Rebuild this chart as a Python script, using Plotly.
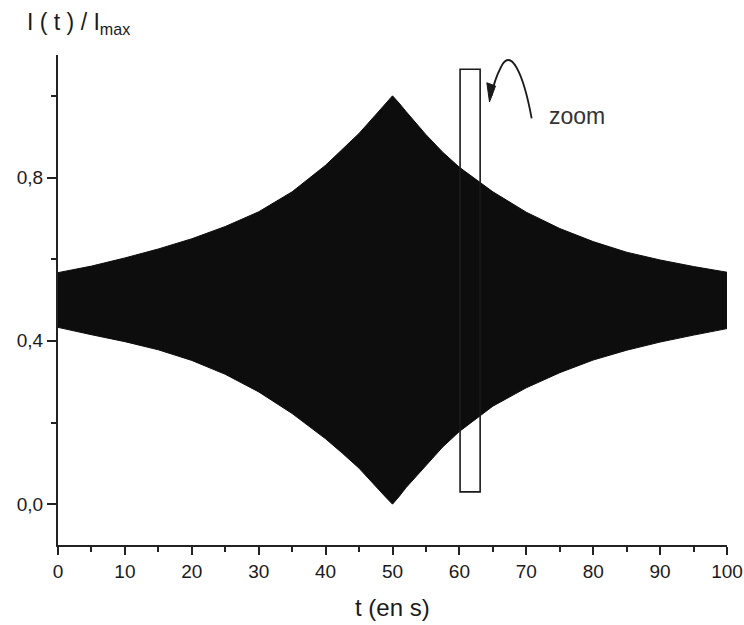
import plotly.graph_objects as go

# Envelope of the (very dense) oscillating intensity
t_s = [0, 5, 10, 15, 20, 25, 30, 35, 40, 42.5, 45, 48, 49, 50, 51, 52, 55, 57.5, 60, 65, 70, 75, 80, 85, 90, 95, 100]
upper = [0.567, 0.583, 0.603, 0.625, 0.650, 0.680, 0.716, 0.765, 0.830, 0.868, 0.908, 0.963, 0.982, 1.000,
         0.982, 0.962, 0.905, 0.862, 0.825, 0.765, 0.715, 0.675, 0.643, 0.617, 0.598, 0.582, 0.568]
lower = [0.433, 0.415, 0.398, 0.378, 0.352, 0.318, 0.275, 0.222, 0.160, 0.125, 0.088, 0.035, 0.017, 0.000,
         0.019, 0.040, 0.095, 0.140, 0.178, 0.240, 0.285, 0.322, 0.353, 0.377, 0.397, 0.414, 0.430]

x_ticks = [0, 10, 20, 30, 40, 50, 60, 70, 80, 90, 100]
x_ticktext = ["0", "10", "20", "30", "40", "50", "60", "70", "80", "90", "100"]
y_ticks = [0.0, 0.4, 0.8]
y_ticktext = ["0,0", "0,4", "0,8"]

FONT = "Liberation Sans"
INK = "#1a1a1a"

fig = go.Figure()
fig.add_trace(go.Scatter(
    x=t_s + t_s[::-1],
    y=upper + lower[::-1],
    fill="toself",
    fillcolor="#0d0d0d",
    line=dict(color="#0d0d0d", width=1),
    mode="lines",
    hoverinfo="skip",
    showlegend=False,
))

# zoom rectangle
fig.add_shape(type="rect", x0=60.1, x1=63.1, y0=0.03, y1=1.065,
              line=dict(color=INK, width=1.6), fillcolor="rgba(0,0,0,0)")
# curved arrow
fig.add_shape(type="path", path="M 70.8,0.945 C 69.5,1.06 67.6,1.12 66.2,1.07 C 65.4,1.045 65.0,1.02 64.8,1.0",
              line=dict(color=INK, width=1.8))
# arrow head
fig.add_shape(type="path", path="M 64.5,0.985 L 64.1,1.032 L 65.4,1.024 Z",
              line=dict(color=INK, width=1), fillcolor=INK)
fig.add_annotation(x=73.1, y=0.95, xref="x", yref="y", text="zoom",
                   showarrow=False, xanchor="left", yanchor="middle",
                   font=dict(family=FONT, size=23, color="#333"))

# axis titles
fig.add_annotation(x=-0.05, y=1.097, xref="paper", yref="paper",
                   text="I ( t ) / I<sub>max</sub>", showarrow=False,
                   xanchor="left", yanchor="top",
                   font=dict(family=FONT, size=23, color="#1a1a1a"))
fig.add_annotation(x=0.5, y=-0.127, xref="paper", yref="paper",
                   text="t (en s)", showarrow=False,
                   xanchor="center", yanchor="middle",
                   font=dict(family=FONT, size=24, color="#1a1a1a"))

fig.update_layout(
    width=744, height=625,
    margin=dict(l=58, r=17, t=55, b=80, autoexpand=False),
    plot_bgcolor="white", paper_bgcolor="white",
    showlegend=False,
    xaxis=dict(
        range=[0, 100], showgrid=False, zeroline=False, automargin=False,
        showline=True, linecolor="#222", linewidth=2,
        ticks="outside", ticklen=8, tickwidth=2, tickcolor="#222",
        tickvals=x_ticks, ticktext=x_ticktext,
        tickfont=dict(family=FONT, size=19, color="#1a1a1a"),
        minor=dict(ticks="outside", ticklen=5, tickwidth=2, tickcolor="#222", dtick=5, tick0=0),
    ),
    yaxis=dict(
        range=[-0.1, 1.1], showgrid=False, zeroline=False, automargin=False,
        showline=True, linecolor="#222", linewidth=2,
        ticks="outside", ticklen=9, tickwidth=2, tickcolor="#222",
        tickvals=y_ticks, ticktext=y_ticktext,
        tickfont=dict(family=FONT, size=19, color="#1a1a1a"),
        minor=dict(ticks="outside", ticklen=5, tickwidth=2, tickcolor="#222", dtick=0.2, tick0=0),
    ),
)

fig.write_html("out.html")
